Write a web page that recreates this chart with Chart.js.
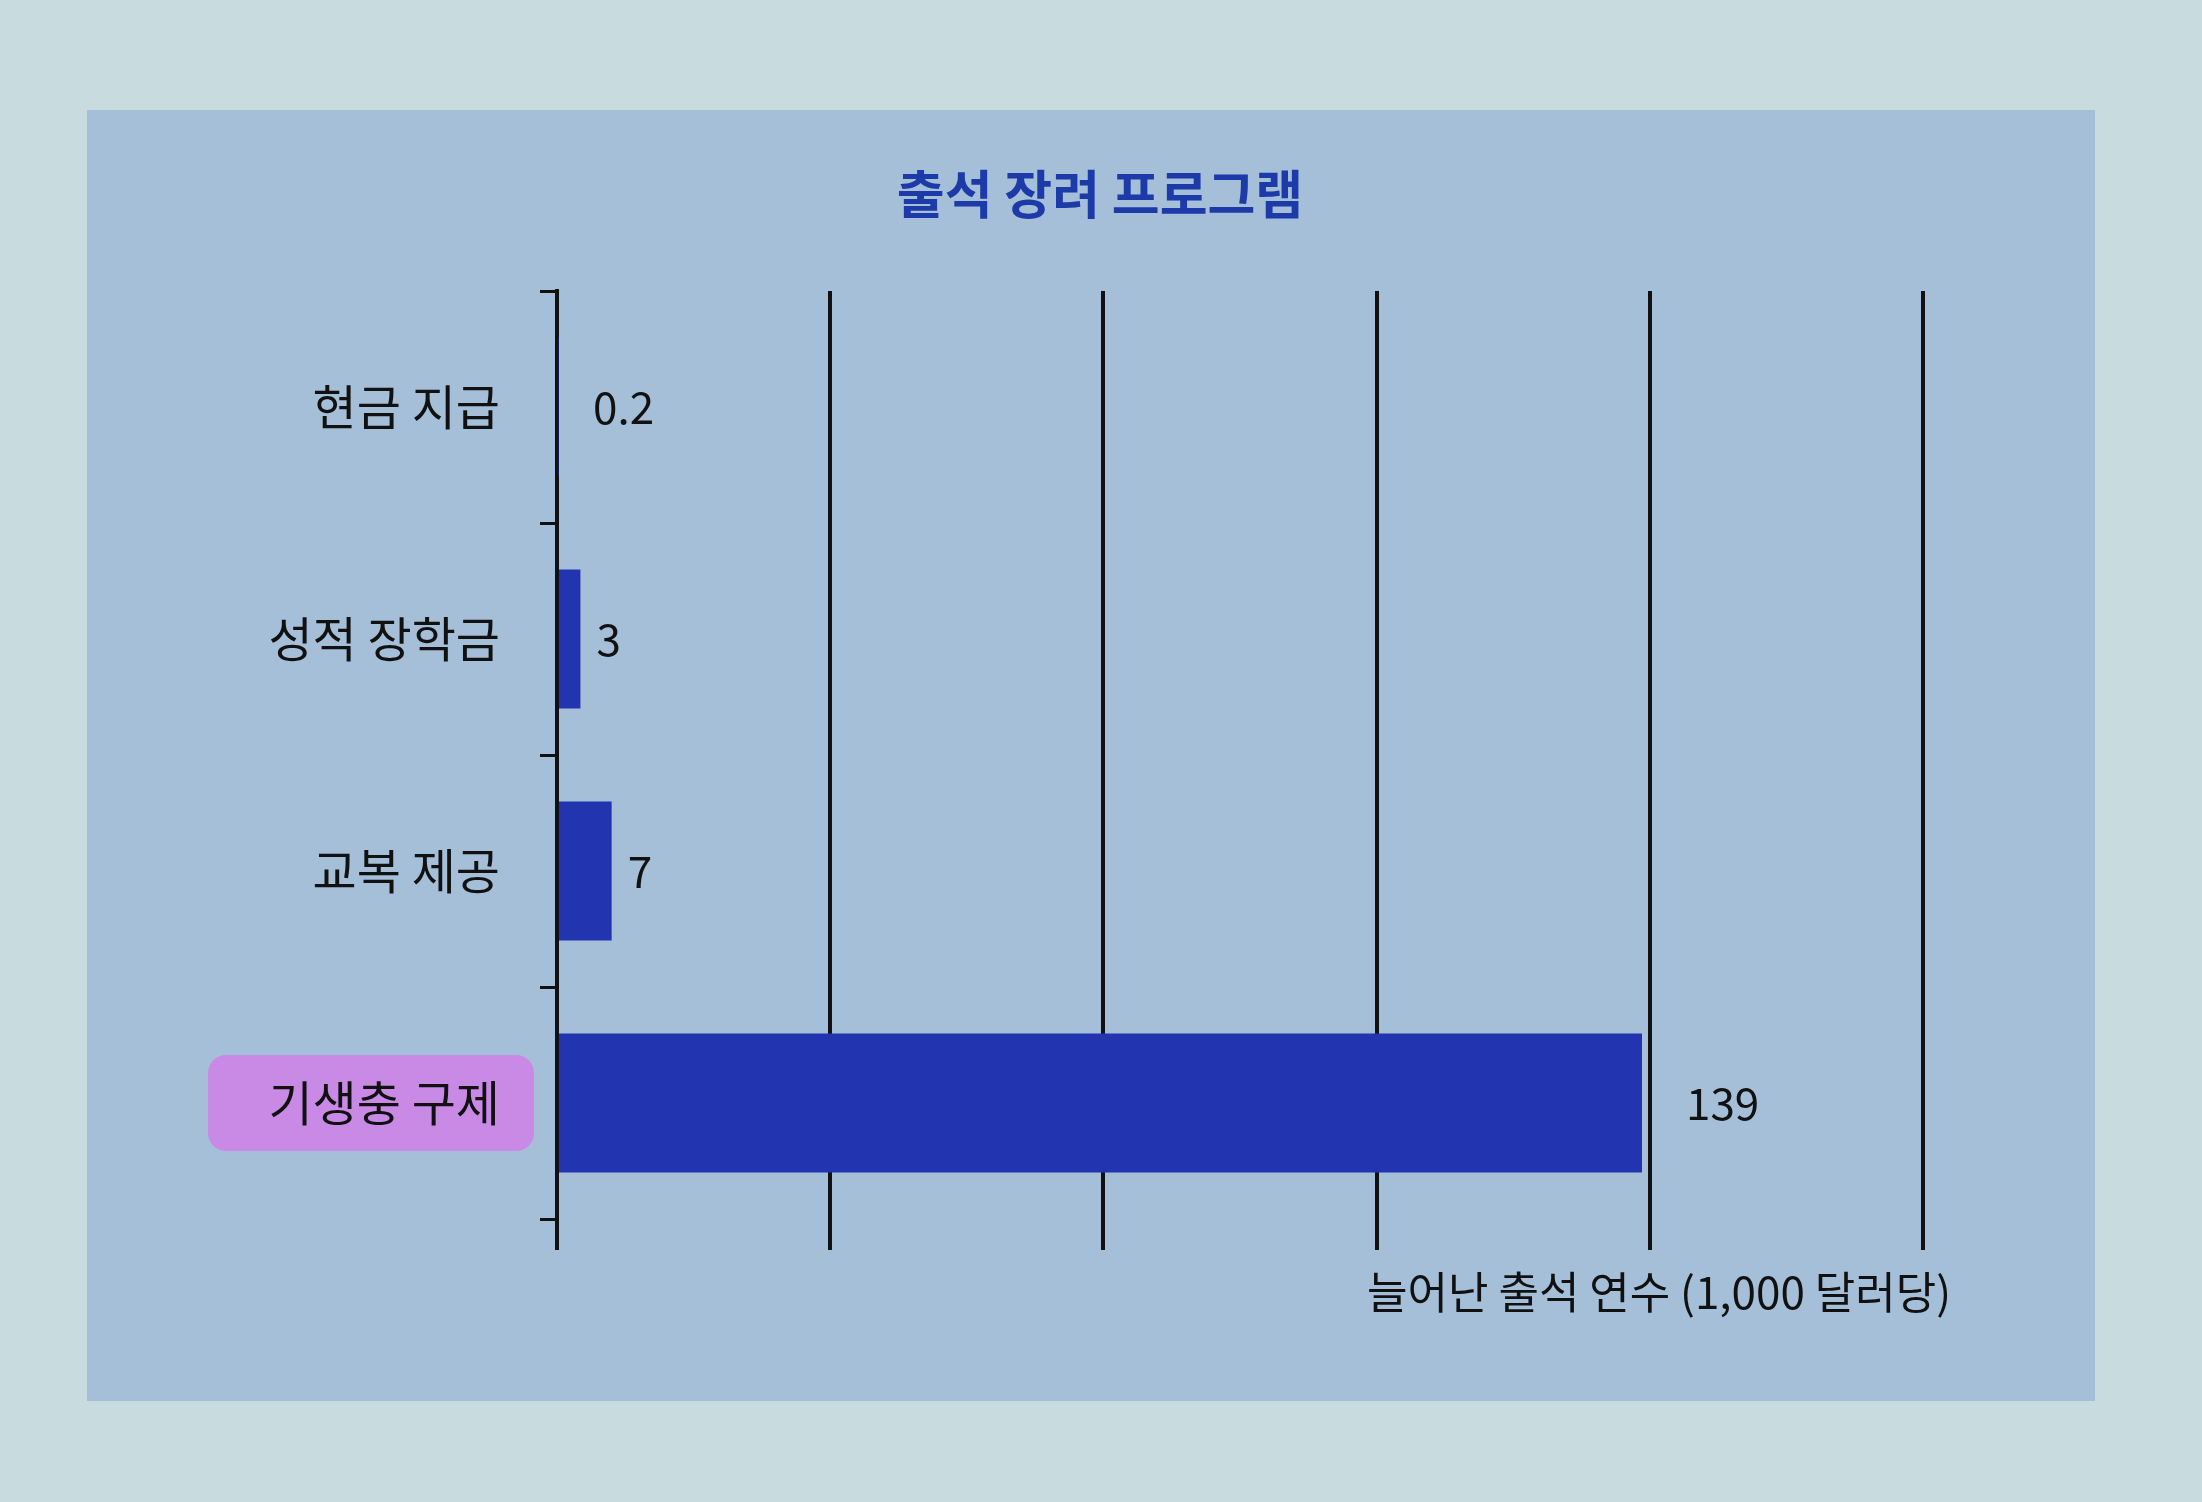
<!DOCTYPE html>
<html><head><meta charset="utf-8">
<script src="https://cdn.jsdelivr.net/npm/chart.js@4/dist/chart.umd.min.js"></script>
<style>html,body{margin:0;background:#c8dcdf;}#wrap{width:2202px;height:1502px;}</style>
</head><body><div id="wrap"><canvas id="c" width="2202" height="1502"></canvas></div>
<script>
const categories = ["현금 지급", "성적 장학금", "교복 제공", "기생충 구제"];
const values = [0.2, 3, 7, 139];
const valueLabels = ["0.2", "3", "7", "139"];
const chartTitle = "출석 장려 프로그램";
const axisTitle = "늘어난 출석 연수 (1,000 달러당)";
const highlightIndex = 3;
const FONT = "'Noto Sans CJK KR', 'Noto Sans', sans-serif";

const decor = {
  id: "decor",
  beforeDraw(chart) {
    const ctx = chart.ctx;
    ctx.save();
    ctx.fillStyle = "#c8dcdf";
    ctx.fillRect(0, 0, chart.width, chart.height);
    ctx.fillStyle = "#a5bfd8";
    ctx.fillRect(87, 110, 2008, 1291);
    // highlight behind label
    const y = chart.scales.y.getPixelForValue(highlightIndex);
    ctx.fillStyle = "#c98ae6";
    ctx.beginPath();
    ctx.roundRect(208, y - 48, 326, 96, 18);
    ctx.fill();
    ctx.restore();
  },
  afterDraw(chart) {
    const ctx = chart.ctx;
    ctx.save();
    ctx.fillStyle = "#1c3aa8";
    ctx.font = "bold 52px " + FONT;
    ctx.textAlign = "center";
    ctx.textBaseline = "middle";
    ctx.fillText(chartTitle, 1100, 194);
    ctx.fillStyle = "#111";
    ctx.font = "44px " + FONT;
    ctx.textAlign = "right";
    ctx.fillText(axisTitle, 1951, 1292);
    ctx.textAlign = "left";
    const meta = chart.getDatasetMeta(0);
    meta.data.forEach((bar, i) => {
      const off = i === 3 ? 44 : 16;
      ctx.fillText(valueLabels[i], Math.max(bar.x, chart.chartArea.left + 20) + off, bar.y);
    });
    ctx.restore();
  }
};

new Chart(document.getElementById("c"), {
  type: "bar",
  data: {
    labels: categories,
    datasets: [{
      data: values,
      backgroundColor: "#2234b0",
      barPercentage: 0.6,
      categoryPercentage: 1
    }]
  },
  options: {
    indexAxis: "y",
    responsive: false,
    animation: false,
    devicePixelRatio: 1,
    layout: { padding: { top: 291, right: 279, bottom: 252, left: 0 } },
    plugins: { legend: { display: false }, tooltip: { enabled: false } },
    scales: {
      x: {
        min: 0, max: 175,
        ticks: { display: false, stepSize: 35 },
        grid: { color: "#111", lineWidth: 4, tickLength: 31, drawTicks: true },
        border: { display: false }
      },
      y: {
        afterFit: s => { s.width = 557; },
        ticks: { color: "#111", font: { size: 48, family: FONT }, padding: 40 },
        grid: { drawOnChartArea: false, offset: true, color: "#111", lineWidth: 3, tickLength: 17 },
        border: { color: "#111", width: 4 }
      }
    }
  },
  plugins: [decor]
});
</script>
</body></html>
